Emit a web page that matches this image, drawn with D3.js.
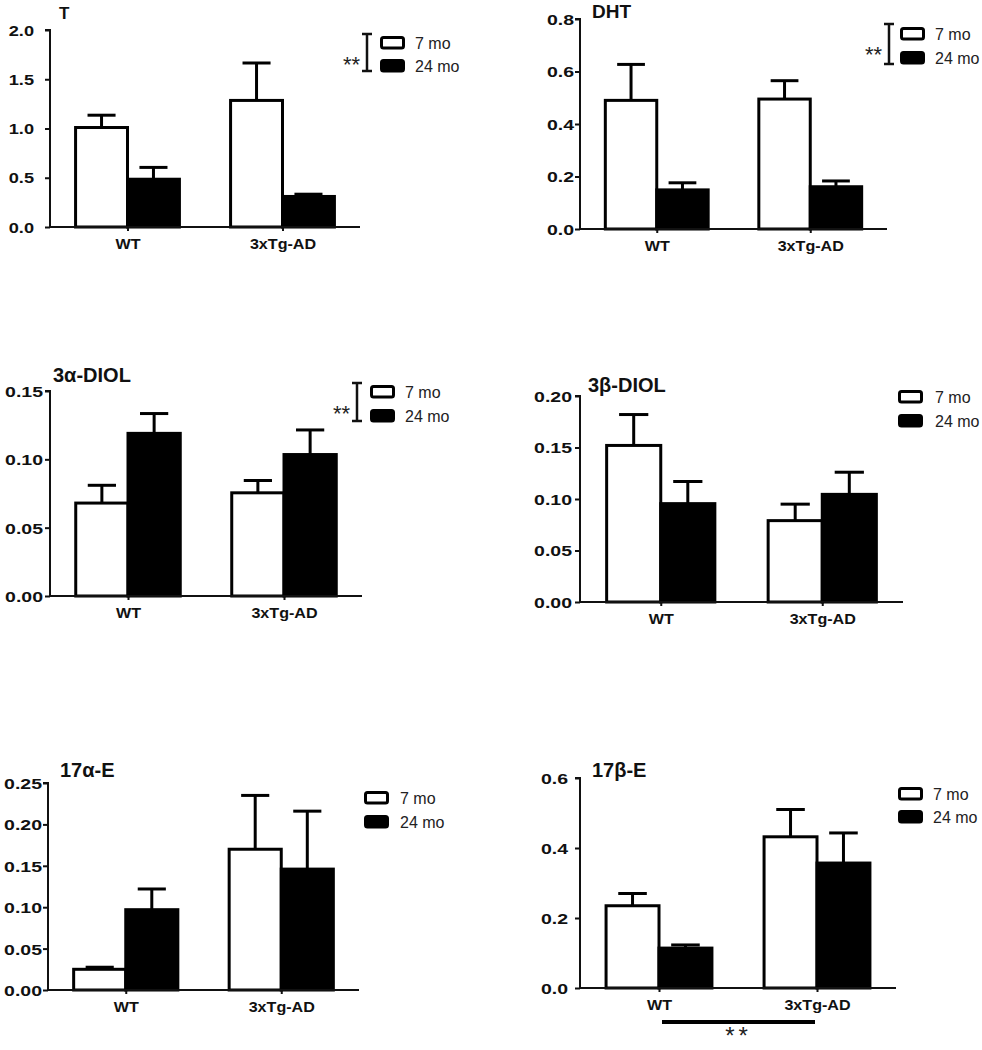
<!DOCTYPE html>
<html>
<head>
<meta charset="utf-8">
<script src="https://cdn.jsdelivr.net/npm/d3@7/dist/d3.min.js"></script>
<style>
  html, body { margin: 0; padding: 0; background: #fff; }
  svg { display: block; font-family: Arial, "Liberation Sans", sans-serif; }
</style>
</head>
<body>
<div id="chart"></div>
<script>
// groups on the x axis and the two ages
const groups = ["WT", "3xTg-AD"];
const ages = ["7 mo", "24 mo"];

// means and SEM, order: WT 7mo, WT 24mo, 3xTg 7mo, 3xTg 24mo
const T_mean = [1.01, 0.485, 1.285, 0.31];
const T_sem = [0.125, 0.12, 0.38, 0.023];
const DHT_mean = [0.49, 0.149, 0.495, 0.161];
const DHT_sem = [0.137, 0.027, 0.07, 0.022];
const A3_mean = [0.068, 0.119, 0.0755, 0.1035];
const A3_sem = [0.013, 0.0145, 0.009, 0.018];
const B3_mean = [0.152, 0.0955, 0.079, 0.1045];
const B3_sem = [0.030, 0.0215, 0.016, 0.0215];
const E17a_mean = [0.025, 0.097, 0.17, 0.146];
const E17a_sem = [0.0025, 0.025, 0.065, 0.07];
const E17b_mean = [0.235, 0.114, 0.432, 0.357];
const E17b_sem = [0.035, 0.009, 0.078, 0.086];

// y tick values
const T_ticks = [0, 0.5, 1.0, 1.5, 2.0];
const DHT_ticks = [0, 0.2, 0.4, 0.6, 0.8];
const A3_ticks = [0, 0.05, 0.10, 0.15];
const B3_ticks = [0, 0.05, 0.10, 0.15, 0.20];
const E17a_ticks = [0, 0.05, 0.10, 0.15, 0.20, 0.25];
const E17b_ticks = [0, 0.2, 0.4, 0.6];

const W = 982, H = 1050;
const svg = d3.select("#chart").append("svg").attr("width", W).attr("height", H);

// panel layout (pixels); lg = gap between axis and tick label
const panels = [
  { title: "T", mean: T_mean, sem: T_sem, ticks: T_ticks, fmt: ".1f", titleSize: 17, tickSize: 14, lg: 16,
    x0: 50, x1: 360, yTop: 30, yBot: 227, tx: 59, ty: 19,
    leg: { x: 380, y7: 36, y24: 59, tx: 415 }, bracket: { x: 367, y0: 34, y1: 71, sy: 72 } },
  { title: "DHT", mean: DHT_mean, sem: DHT_sem, ticks: DHT_ticks, fmt: ".1f", titleSize: 19, tickSize: 15, lg: 6,
    x0: 580, x1: 887, yTop: 19, yBot: 229, tx: 592, ty: 18,
    leg: { x: 900, y7: 27, y24: 51, tx: 935 }, bracket: { x: 889, y0: 24, y1: 64, sy: 62 } },
  { title: "3α-DIOL", mean: A3_mean, sem: A3_sem, ticks: A3_ticks, fmt: ".2f", titleSize: 20, tickSize: 15, lg: 7,
    x0: 50, x1: 362, yTop: 391, yBot: 596, tx: 53, ty: 382,
    leg: { x: 370, y7: 385, y24: 409, tx: 405 }, bracket: { x: 357, y0: 383, y1: 421, sy: 421 } },
  { title: "3β-DIOL", mean: B3_mean, sem: B3_sem, ticks: B3_ticks, fmt: ".2f", titleSize: 20, tickSize: 15, lg: 8,
    x0: 580, x1: 903, yTop: 396, yBot: 602, tx: 588, ty: 392,
    leg: { x: 898, y7: 390, y24: 414, tx: 935 } },
  { title: "17α-E", mean: E17a_mean, sem: E17a_sem, ticks: E17a_ticks, fmt: ".2f", titleSize: 20, tickSize: 15, lg: 6,
    x0: 48, x1: 359, yTop: 783, yBot: 990, tx: 60, ty: 777,
    leg: { x: 364, y7: 791, y24: 815, tx: 400 } },
  { title: "17β-E", mean: E17b_mean, sem: E17b_sem, ticks: E17b_ticks, fmt: ".1f", titleSize: 20, tickSize: 15, lg: 12,
    x0: 580, x1: 896, yTop: 778, yBot: 988, tx: 592, ty: 777,
    leg: { x: 898, y7: 787, y24: 810, tx: 933 }, sigLine: true }
];

const SX = 1.3; // horizontal stretch of the tick labels, as in the figure

panels.forEach(p => {
  const g = svg.append("g");
  const y = d3.scaleLinear().domain([0, d3.max(p.ticks)]).range([p.yBot, p.yTop]);
  const x = d3.scalePoint().domain(groups).range([p.x0, p.x1]).padding(0.5);
  const bw = x.step() * 0.335;
  const xa = d3.scaleBand().domain(ages).range([-bw, bw]);
  const cx = d => x(d.grp) + xa(d.age) + xa.bandwidth() / 2;

  const rows = [];
  groups.forEach((grp, gi) => ages.forEach((age, ai) => {
    const k = gi * 2 + ai;
    rows.push({ grp, age, mean: p.mean[k], sem: p.sem[k] });
  }));

  // error bars (upper only), drawn first so the bars sit on top
  const eb = g.selectAll("g.err").data(rows).join("g").attr("class", "err")
    .attr("stroke", "#000").attr("stroke-width", 3);
  eb.append("line")
    .attr("x1", cx).attr("x2", cx)
    .attr("y1", d => y(d.mean)).attr("y2", d => y(d.mean + d.sem));
  eb.append("line")
    .attr("x1", d => cx(d) - bw * 0.27)
    .attr("x2", d => cx(d) + bw * 0.27)
    .attr("y1", d => y(d.mean + d.sem)).attr("y2", d => y(d.mean + d.sem));

  // bars
  g.selectAll("rect.bar").data(rows).join("rect").attr("class", "bar")
    .attr("x", d => x(d.grp) + xa(d.age))
    .attr("width", xa.bandwidth())
    .attr("y", d => y(d.mean))
    .attr("height", d => y(0) - y(d.mean))
    .attr("fill", d => d.age === "7 mo" ? "#fff" : "#000")
    .attr("stroke", "#000").attr("stroke-width", 3);

  // y axis
  const yAxis = g.append("g").attr("transform", `translate(${p.x0},0)`)
    .call(d3.axisLeft(y).tickValues(p.ticks).tickFormat(d3.format(p.fmt)).tickSize(5));
  yAxis.select(".domain").attr("stroke", "#111").attr("stroke-width", 2).attr("d", `M-5,${p.yTop}H0V${p.yBot}`);
  yAxis.selectAll(".tick line").attr("stroke", "#111").attr("stroke-width", 2);
  yAxis.selectAll(".tick text").attr("font-size", p.tickSize).attr("font-weight", "bold").attr("fill", "#111")
    .attr("transform", `scale(${SX},1)`).attr("x", -p.lg / SX).attr("dy", "0.36em");

  // x axis
  const xAxis = g.append("g").attr("transform", `translate(0,${p.yBot})`)
    .call(d3.axisBottom(x).tickSize(4).tickPadding(8));
  xAxis.select(".domain").attr("stroke", "#111").attr("stroke-width", 2).attr("d", `M${p.x0},0H${p.x1}`);
  xAxis.selectAll(".tick line").attr("stroke", "#111").attr("stroke-width", 2);
  xAxis.selectAll(".tick text").attr("font-size", 14).attr("font-weight", "bold").attr("fill", "#111")
    .attr("transform", "scale(1.15,1)");

  // title
  g.append("text").attr("x", p.tx).attr("y", p.ty).text(p.title)
    .attr("font-size", p.titleSize).attr("font-weight", "bold").attr("fill", "#111");

  // legend
  const L = p.leg;
  ages.forEach((age, i) => {
    const yy = i === 0 ? L.y7 : L.y24;
    g.append("rect").attr("x", L.x + 1.5).attr("y", yy + 1.5).attr("width", 22).attr("height", 10.5)
      .attr("rx", 2).attr("fill", i === 0 ? "#fff" : "#000").attr("stroke", "#000").attr("stroke-width", 3);
    g.append("text").attr("x", L.tx).attr("y", yy + 13).text(age)
      .attr("font-size", 16).attr("fill", "#222");
  });

  // significance bracket between ages
  if (p.bracket) {
    const b = p.bracket;
    g.append("path").attr("d", `M${b.x - 5},${b.y0}H${b.x + 5}M${b.x},${b.y0}V${b.y1}M${b.x - 5},${b.y1}H${b.x + 5}`)
      .attr("stroke", "#111").attr("stroke-width", 2.5).attr("fill", "none");
    g.append("text").attr("x", b.x - 7).attr("y", b.sy).attr("text-anchor", "end")
      .text("**").attr("font-size", 22).attr("fill", "#222");
  }

  // significance line between groups
  if (p.sigLine) {
    const a = x(groups[0]) + 3, c = x(groups[1]) - 2;
    g.append("line").attr("x1", a).attr("x2", c).attr("y1", 1022).attr("y2", 1022)
      .attr("stroke", "#000").attr("stroke-width", 4);
    g.append("text").attr("x", (a + c) / 2).attr("y", 1044).attr("text-anchor", "middle")
      .text("**").attr("font-size", 24).attr("letter-spacing", 4).attr("fill", "#222");
  }
});
</script>
</body>
</html>
